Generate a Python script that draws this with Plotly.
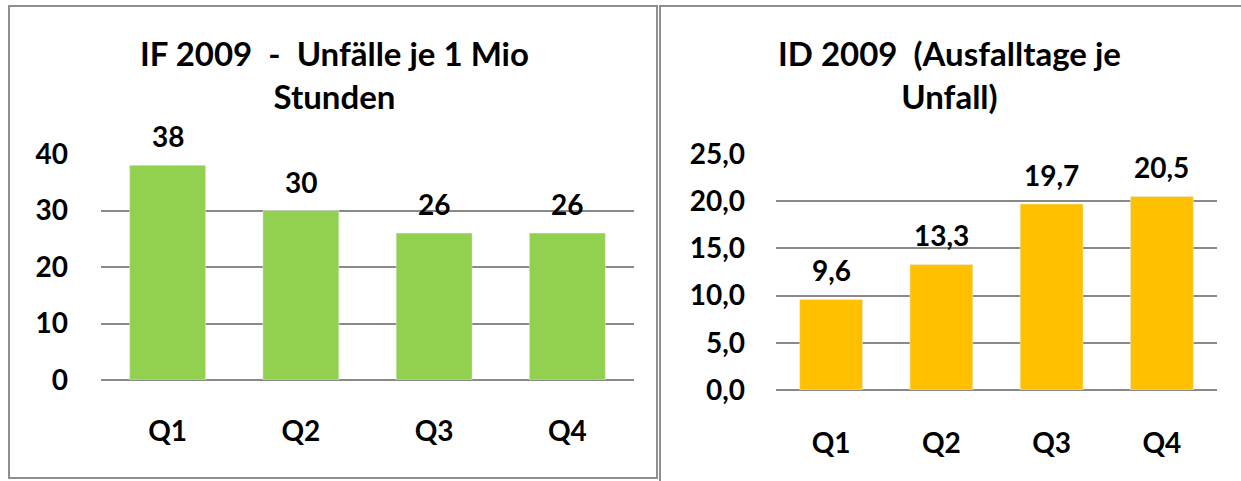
import plotly.graph_objects as go

W, H = 1241, 481

categories = ["Q1", "Q2", "Q3", "Q4"]
if_values = [38, 30, 26, 26]
id_values = [9.6, 13.3, 19.7, 20.5]
if_title = "IF 2009  -  Unfälle je 1 Mio<br>Stunden"
id_title = "ID 2009  (Ausfalltage je<br>Unfall)"

GREEN = "#92D050"
ORANGE = "#FFC000"
GRID = "#898989"
BORDER = "#8f8f8f"
FONT = "Lato"


def px_x(v):
    return v / W


def px_y(v):
    return 1 - v / H


fig = go.Figure()
fig.add_trace(go.Bar(x=categories, y=if_values, marker_color=GREEN, width=0.57,
                     xaxis="x", yaxis="y", showlegend=False))
fig.add_trace(go.Bar(x=categories, y=id_values, marker_color=ORANGE, width=0.57,
                     xaxis="x2", yaxis="y2", showlegend=False))

# data labels
for c, v in zip(categories, if_values):
    fig.add_annotation(x=c, y=v, xref="x", yref="y", text=f"{v}", showarrow=False,
                       yanchor="bottom", yshift=10,
                       font=dict(family=FONT, size=28, color="black", weight="bold"))
for c, v in zip(categories, id_values):
    fig.add_annotation(x=c, y=v, xref="x2", yref="y2", text=f"{v:.1f}".replace(".", ","),
                       showarrow=False, yanchor="bottom", yshift=10,
                       font=dict(family=FONT, size=28, color="black", weight="bold"))

# titles
fig.add_annotation(x=px_x(334), y=px_y(74), xref="paper", yref="paper", text=if_title,
                   showarrow=False, xanchor="center", yanchor="middle",
                   font=dict(family=FONT, size=33, color="black", weight="bold"))
fig.add_annotation(x=px_x(950), y=px_y(74), xref="paper", yref="paper", text=id_title,
                   showarrow=False, xanchor="center", yanchor="middle",
                   font=dict(family=FONT, size=33, color="black", weight="bold"))

# chart borders
fig.add_shape(type="rect", xref="paper", yref="paper",
              x0=px_x(9), x1=px_x(657), y0=px_y(478), y1=px_y(6),
              line=dict(color=BORDER, width=2))
fig.add_shape(type="rect", xref="paper", yref="paper",
              x0=px_x(660), x1=px_x(1260), y0=px_y(500), y1=px_y(6),
              line=dict(color=BORDER, width=2))

tickfont = dict(family=FONT, size=28, color="black", weight="bold")

fig.update_layout(
    width=W, height=H,
    margin=dict(l=0, r=0, t=0, b=0, autoexpand=False),
    paper_bgcolor="white", plot_bgcolor="white",
    separators=",.",
    xaxis=dict(domain=[px_x(101), px_x(634)], showgrid=False, showline=False, automargin=False,
               tickfont=tickfont, ticks="", ticklabelstandoff=32, zeroline=False),
    yaxis=dict(domain=[px_y(380), px_y(154)], range=[0, 40], tickvals=[0, 10, 20, 30, 40],
               showgrid=True, gridcolor=GRID, gridwidth=1.5, zeroline=True, automargin=False,
               zerolinecolor=GRID, zerolinewidth=1.5, showline=False,
               tickfont=tickfont, ticks="", ticklabelstandoff=32),
    xaxis2=dict(domain=[px_x(776), px_x(1217)], anchor="y2", showgrid=False, showline=False,
                automargin=False,
                tickfont=tickfont, ticks="", ticklabelstandoff=34, zeroline=False),
    yaxis2=dict(domain=[px_y(390), px_y(154)], anchor="x2", range=[0, 25],
                tickvals=[0, 5, 10, 15, 20, 25], tickformat=".1f", automargin=False,
                showgrid=True, gridcolor=GRID, gridwidth=1.5, zeroline=True,
                zerolinecolor=GRID, zerolinewidth=1.5, showline=False,
                tickfont=tickfont, ticks="", ticklabelstandoff=30),
)

fig.write_html("out.html", config={"displayModeBar": False},
               post_script="document.body.style.margin='0';document.body.style.overflow='hidden';")
